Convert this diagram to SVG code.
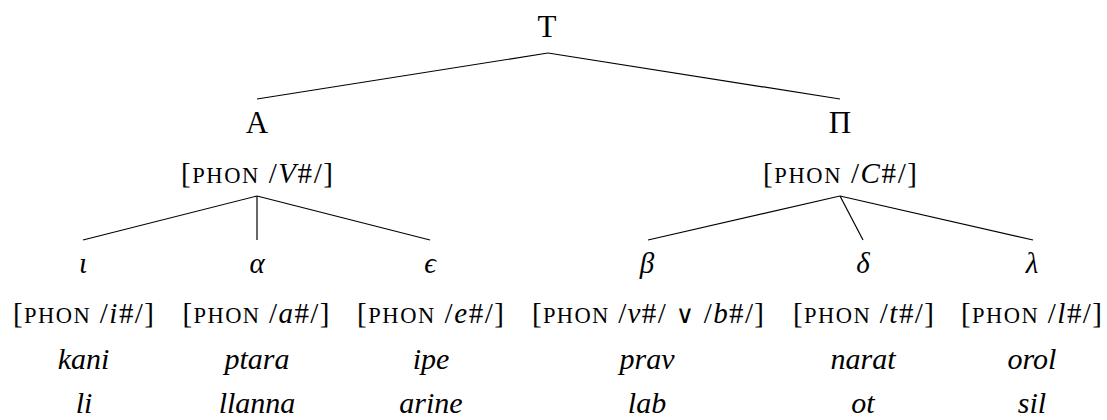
<svg xmlns="http://www.w3.org/2000/svg" width="1107" height="420" viewBox="0 0 1107 420" font-family="'Liberation Serif', 'DejaVu Serif', 'Noto Serif', serif">
  <style>
    text { font-family: 'Liberation Serif', 'DejaVu Serif', 'Noto Serif', serif; fill: #000; text-anchor: middle; }
    .cat { font-size: 31px; }
    .feat { font-size: 29px; }
    .sc { font-size: 22.5px; }
    .it { font-style: italic; }
    .or { font-family: 'DejaVu Sans', sans-serif; font-size: 25px; }
    .gk { font-size: 29px; font-style: italic; }
    .word { font-size: 30px; font-style: italic; }
    .edges line { stroke: #000; stroke-width: 1.2; fill: none; }
  </style>

  <!-- tree branches -->
  <g id="edges" class="edges">
    <line x1="548" y1="53" x2="257" y2="99"/>
    <line x1="548" y1="53" x2="840" y2="99"/>
    <line x1="257" y1="196" x2="83" y2="240"/>
    <line x1="257" y1="196" x2="257" y2="240"/>
    <line x1="257" y1="196" x2="430" y2="240"/>
    <line x1="840" y1="196" x2="648" y2="240"/>
    <line x1="840" y1="196" x2="863" y2="240"/>
    <line x1="840" y1="196" x2="1033" y2="240"/>
  </g>

  <!-- root -->
  <g id="node-T">
    <text class="cat" x="547" y="37">T</text>
  </g>

  <!-- vowel-final branch -->
  <g id="node-A">
    <text class="cat" x="257" y="133">A</text>
    <text class="feat" x="257" y="183" textLength="152" lengthAdjust="spacing">[<tspan class="sc">PHON</tspan> /<tspan class="it">V</tspan>#/]</text>
  </g>

  <!-- consonant-final branch -->
  <g id="node-Pi">
    <text class="cat" x="840" y="133">Π</text>
    <text class="feat" x="840" y="183" textLength="154" lengthAdjust="spacing">[<tspan class="sc">PHON</tspan> /<tspan class="it">C</tspan>#/]</text>
  </g>

  <g id="node-iota">
    <text class="gk" x="83" y="273">ι</text>
    <text class="feat" x="83.5" y="323" textLength="141" lengthAdjust="spacing">[<tspan class="sc">PHON</tspan> /<tspan class="it">i</tspan>#/]</text>
    <text class="word" x="83.5" y="369">kani</text>
    <text class="word" x="84" y="413">li</text>
  </g>

  <g id="node-alpha">
    <text class="gk" x="257" y="273">α</text>
    <text class="feat" x="256" y="323" textLength="147" lengthAdjust="spacing">[<tspan class="sc">PHON</tspan> /<tspan class="it">a</tspan>#/]</text>
    <text class="word" x="257" y="369">ptara</text>
    <text class="word" x="257" y="413">llanna</text>
  </g>

  <g id="node-epsilon">
    <text class="gk" x="430" y="273">ϵ</text>
    <text class="feat" x="430.5" y="323" textLength="147" lengthAdjust="spacing">[<tspan class="sc">PHON</tspan> /<tspan class="it">e</tspan>#/]</text>
    <text class="word" x="431" y="369">ipe</text>
    <text class="word" x="431" y="413">arine</text>
  </g>

  <g id="node-beta">
    <text class="gk" x="647" y="273">β</text>
    <text class="feat" x="648" y="323" textLength="232" lengthAdjust="spacing">[<tspan class="sc">PHON</tspan> /<tspan class="it">v</tspan>#/ <tspan class="or">∨</tspan> /<tspan class="it">b</tspan>#/]</text>
    <text class="word" x="647" y="369">prav</text>
    <text class="word" x="647" y="413">lab</text>
  </g>

  <g id="node-delta">
    <text class="gk" x="863" y="273">δ</text>
    <text class="feat" x="863.5" y="323" textLength="141" lengthAdjust="spacing">[<tspan class="sc">PHON</tspan> /<tspan class="it">t</tspan>#/]</text>
    <text class="word" x="863" y="369">narat</text>
    <text class="word" x="863" y="413">ot</text>
  </g>

  <g id="node-lambda">
    <text class="gk" x="1032" y="273">λ</text>
    <text class="feat" x="1031.5" y="323" textLength="141" lengthAdjust="spacing">[<tspan class="sc">PHON</tspan> /<tspan class="it">l</tspan>#/]</text>
    <text class="word" x="1032" y="369">orol</text>
    <text class="word" x="1032" y="413">sil</text>
  </g>
</svg>
